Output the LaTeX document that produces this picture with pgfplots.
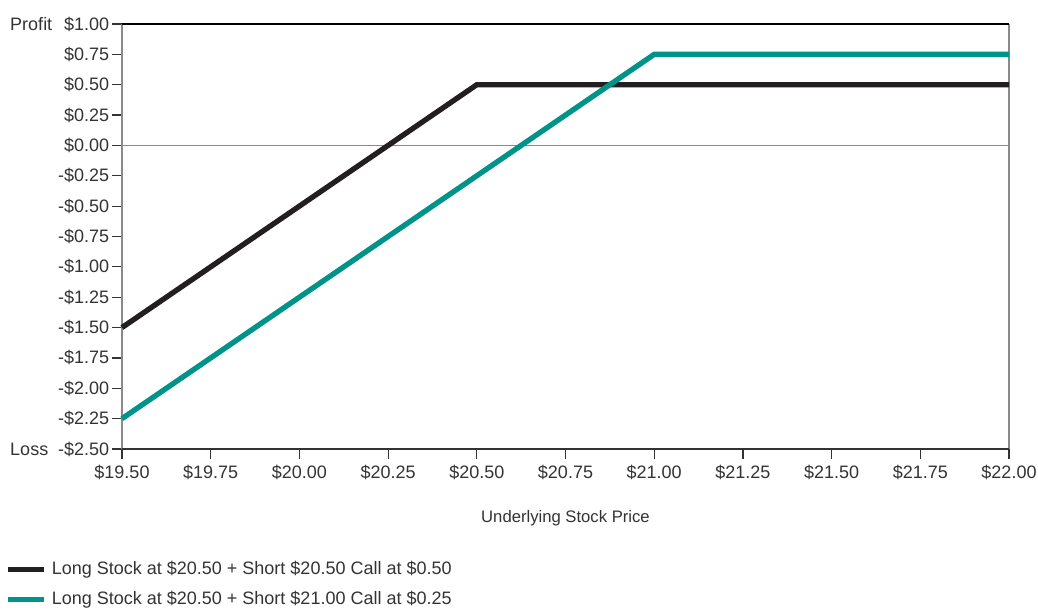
\documentclass[border=0pt]{standalone}
\usepackage{pgfplots}
\pgfplotsset{compat=1.18}
\usepackage{fontspec}
\setmainfont{Liberation Sans}
\definecolor{lineblack}{HTML}{231F20}
\definecolor{lineteal}{HTML}{00938A}
\definecolor{axgray}{HTML}{8A8A8A}
\definecolor{tickdark}{HTML}{333333}
\begin{document}
\begin{tikzpicture}[x=1pt,y=1pt]
\useasboundingbox (0,0) rectangle (778.5,457.5);
\begin{axis}[
  at={(91.5pt,120.75pt)}, anchor=south west,
  scale only axis, width=665.25pt, height=318.75pt,
  xmin=19.5, xmax=22, ymin=-2.5, ymax=1,
  axis line style={draw=none},
  clip=false,
  xtick={19.5,19.75,20,20.25,20.5,20.75,21,21.25,21.5,21.75,22},
  xticklabels={\$19.50,\$19.75,\$20.00,\$20.25,\$20.50,\$20.75,\$21.00,\$21.25,\$21.50,\$21.75,\$22.00},
  ytick={-2.5,-2.25,-2,-1.75,-1.5,-1.25,-1,-0.75,-0.5,-0.25,0,0.25,0.5,0.75,1},
  yticklabels={-\$2.50,-\$2.25,-\$2.00,-\$1.75,-\$1.50,-\$1.25,-\$1.00,-\$0.75,-\$0.50,-\$0.25,\$0.00,\$0.25,\$0.50,\$0.75,\$1.00},
  tick align=outside,
  xtick pos=bottom, ytick pos=left,
  major tick length=7.5pt,
  every tick/.style={tickdark, line width=0.9pt},
  ticklabel style={font=\fontsize{13.5}{15}\selectfont, text=black!80},
  xticklabel style={inner sep=1pt, yshift=-3.5pt},
  yticklabel style={inner sep=1pt, xshift=-1pt},
  xlabel={Underlying Stock Price},
  xlabel style={font=\fontsize{12.5}{14}\selectfont, text=black!80, at={(axis description cs:0.5,0)}, anchor=center, yshift=-51.75pt},
  legend style={at={(axis description cs:-0.132,-0.258)}, anchor=north west, draw=none, fill=none,
    font=\fontsize{13.5}{15}\selectfont, text=black!80, row sep=7pt, inner sep=0pt,
    legend cell align=left},
  legend image code/.code={\draw[#1, line width=4pt] (0pt,0pt) -- (27pt,0pt); \path (29pt,0pt);},
]
% frame
\draw[axgray, line width=1.2pt] (rel axis cs:0,0) -- (rel axis cs:0,1);
\draw[axgray, line width=1.2pt] (rel axis cs:1,0) -- (rel axis cs:1,1);
\draw[black, line width=1.2pt] (rel axis cs:0,1) -- (rel axis cs:1,1);
\draw[tickdark, line width=1.2pt] (rel axis cs:0,0) -- (rel axis cs:1,0);
\draw[axgray, line width=1.2pt] (axis cs:19.5,0) -- (axis cs:22,0);
\addplot[lineblack, line width=4pt] coordinates {(19.5,-1.5) (20.5,0.5) (22,0.5)};
\addlegendentry{Long Stock at \$20.50 + Short \$20.50 Call at \$0.50}
\addplot[lineteal, line width=4pt] coordinates {(19.5,-2.25) (21,0.75) (22,0.75)};
\addlegendentry{Long Stock at \$20.50 + Short \$21.00 Call at \$0.25}
\node[anchor=west, font=\fontsize{13.5}{15}\selectfont, text=black!80, inner sep=0pt] at (axis description cs:-0.1263,1) {Profit};
\node[anchor=west, font=\fontsize{13.5}{15}\selectfont, text=black!80, inner sep=0pt] at (axis description cs:-0.1263,0) {Loss};
\end{axis}
\end{tikzpicture}
\end{document}
